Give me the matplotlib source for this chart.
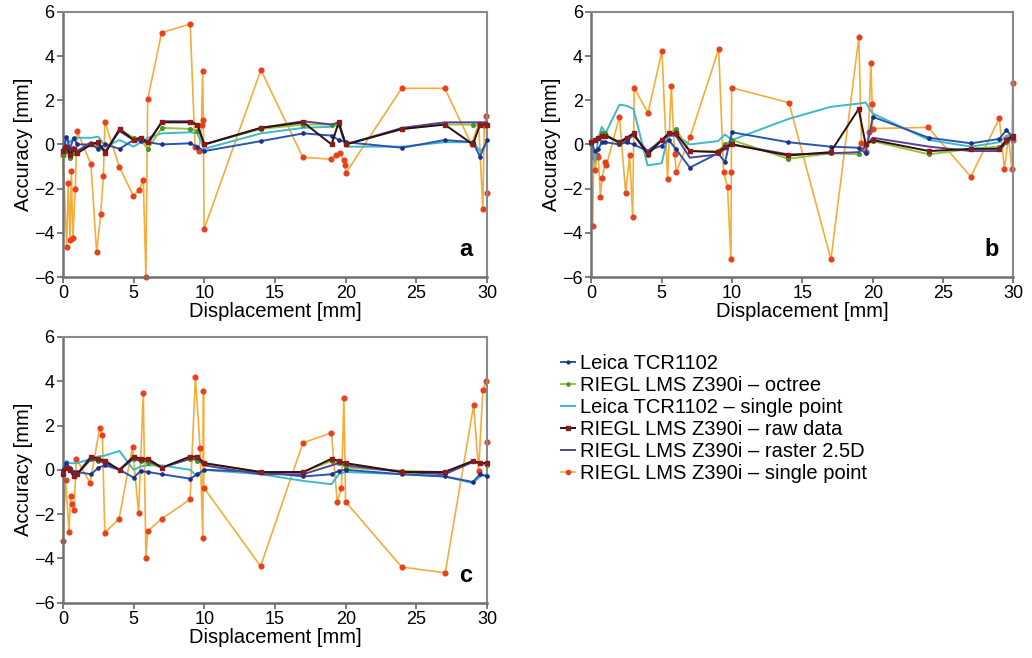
import matplotlib.pyplot as plt

plt.rcParams["font.family"] = ["Liberation Sans", "DejaVu Sans"]

# common displacement steps used by the five "near zero" series
X_STEPS = [0, 0.25, 0.5, 0.75, 1, 2, 2.5, 3, 4, 5, 5.5, 6, 7, 9, 9.5, 10,
           14, 17, 19, 19.5, 20, 24, 27, 29, 29.5, 30]

SERIES_NAMES = [
    "Leica TCR1102",
    "RIEGL LMS Z390i \u2013 octree",
    "Leica TCR1102 \u2013 single point",
    "RIEGL LMS Z390i \u2013 raw data",
    "RIEGL LMS Z390i \u2013 raster 2.5D",
    "RIEGL LMS Z390i \u2013 single point",
]

# panel a
A_LEICA = [-0.3, 0.35, -0.2, 0.3, 0.0, 0.0, -0.2, 0.0, -0.2, 0.2, 0.15, 0.1, 0.0,
           0.05, -0.1, -0.3, 0.15, 0.5, 0.4, 0.2, 0.1, -0.15, 0.2, 0.1, -0.55, 0.2]
A_OCTREE = [-0.5, -0.3, -0.6, -0.4, -0.4, 0.0, -0.1, -0.3, 0.7, 0.3, 0.2, -0.2, 0.75,
            0.7, 0.6, 0.0, 0.7, 0.9, 0.9, 0.9, 0.0, 0.7, 0.9, 0.9, 0.9, 0.9]
A_LEICA_SP = [-0.2, 0.3, 0.1, 0.3, 0.3, 0.3, 0.35, -0.1, 0.2, -0.1, 0.1, 0.3, 0.5,
              0.55, 0.5, -0.2, 0.5, 0.75, 0.8, 0.9, -0.1, -0.1, 0.1, 0.1, -0.3, 0.0]
A_RAW = [-0.3, -0.1, -0.5, -0.2, -0.4, 0.0, 0.1, -0.4, 0.7, 0.2, 0.3, 0.1, 1.0,
         1.0, 0.9, 0.0, 0.75, 1.0, 0.0, 1.0, 0.0, 0.7, 0.9, 0.0, 0.9, 0.9]
A_RASTER = [-0.2, 0.0, -0.4, -0.1, -0.3, 0.1, 0.0, -0.3, 0.6, 0.2, 0.3, 0.0, 1.05,
            1.05, 0.9, 0.0, 0.75, 1.05, 0.9, 1.0, 0.0, 0.75, 1.0, 1.0, 1.0, 1.0]
A_SP_X = [0, 0.26, 0.38, 0.5, 0.6, 0.7, 0.87, 1.0, 1.98, 2.38, 2.67, 2.86, 2.97,
          3.98, 4.98, 5.4, 5.68, 5.87, 5.99, 6.98, 9.0, 9.34, 9.6, 9.8, 9.88, 9.93,
          9.98, 14.0, 16.96, 18.94, 19.3, 19.6, 19.85, 19.97, 20.0, 23.96, 27.0,
          28.9, 29.4, 29.7, 29.8, 29.95, 30.0]
A_SP_Y = [-0.5, -4.62, -1.73, -4.32, -1.2, -4.25, -2.0, 0.61, -0.9, -4.88, -3.16,
          -1.45, 1.02, -1.0, -2.33, -2.06, -1.6, -5.98, 2.04, 5.06, 5.45, -0.1, -0.3,
          0.9, 3.33, 1.1, -3.84, 3.37, -0.58, -0.67, -0.5, -0.4, -0.7, -0.95, -1.3,
          2.54, 2.54, 0.0, 0.93, -2.93, 0.9, 1.3, -2.2]

# panel b
B_LEICA = [0.1, -0.3, -0.2, 0.1, 0.1, 0.0, 0.1, 0.0, -0.3, -0.05, 0.2, -0.2, -1.05,
           -0.4, -0.8, 0.55, 0.1, -0.1, -0.15, -0.4, 1.25, 0.3, 0.05, 0.25, 0.65, 0.3]
B_OCTREE = [0.0, 0.2, 0.3, 0.5, 0.5, 0.0, 0.2, 0.5, -0.5, 0.2, 0.5, 0.7, -0.3,
            -0.3, 0.0, 0.2, -0.65, -0.4, -0.45, 0.0, 0.15, -0.45, -0.2, -0.1, 0.1, 0.3]
B_LEICA_SP = [0.0, -0.8, 0.3, 0.8, 0.5, 1.8, 1.75, 1.6, -0.95, -0.85, 0.5, 0.45, 0.0,
              0.15, 0.45, 0.2, 1.15, 1.7, 1.85, 1.9, 1.4, 0.2, -0.1, 0.1, 0.4, 0.3]
B_RAW = [0.1, 0.2, 0.3, 0.4, 0.4, 0.1, 0.3, 0.5, -0.45, 0.2, 0.5, 0.5, -0.3,
         -0.35, -0.1, 0.0, -0.5, -0.35, 1.6, 0.0, 0.2, -0.3, -0.2, -0.2, 0.2, 0.4]
B_RASTER = [0.1, 0.1, 0.2, 0.3, 0.4, 0.1, 0.2, 0.4, -0.3, 0.2, 0.4, 0.4, -0.6,
            -0.45, -0.2, 0.0, -0.45, -0.4, -0.35, -0.1, 0.3, -0.1, -0.3, -0.3, 0.1, 0.3]
B_SP_X = [0.1, 0.17, 0.28, 0.4, 0.5, 0.64, 0.76, 1.0, 1.07, 2.0, 2.44, 2.72, 2.94,
          3.05, 4.03, 5.02, 5.42, 5.68, 5.92, 6.04, 7.03, 9.05, 9.4, 9.68, 9.92, 9.95,
          9.97, 14.04, 17.03, 19.01, 19.2, 19.5, 19.7, 19.87, 19.96, 20.0, 23.94,
          26.97, 29.0, 29.36, 29.65, 29.88, 29.95, 30.0]
B_SP_Y = [-3.7, -0.56, -1.16, -0.5, -0.56, -2.37, -1.54, -0.8, -0.94, 1.25, -2.2,
          -0.5, -3.28, 2.54, 1.43, 4.23, -1.58, 2.66, -0.44, -1.24, 0.35, 4.32, -1.27,
          -1.92, -5.2, -1.27, 2.57, 1.89, -5.2, 4.85, 0.05, -0.33, 0.57, 3.7, 1.81,
          0.72, 0.77, -1.46, 1.18, -1.13, 0.35, -1.09, 2.76, 0.2]

# panel c
C_LEICA = [0.0, 0.3, 0.1, -0.1, -0.1, -0.2, 0.1, 0.2, 0.0, -0.35, -0.05, -0.1, -0.2,
           -0.4, -0.2, 0.0, -0.1, -0.3, -0.2, -0.05, 0.0, -0.2, -0.3, -0.55, -0.2, -0.3]
C_OCTREE = [-0.1, 0.1, 0.0, -0.3, -0.2, 0.5, 0.4, 0.3, 0.0, 0.5, 0.4, 0.3, 0.1,
            0.5, 0.4, 0.3, -0.1, -0.1, 0.4, 0.3, 0.1, -0.05, -0.1, 0.4, 0.3, 0.2]
C_LEICA_SP = [0.0, 0.4, 0.3, 0.3, 0.3, 0.5, 0.6, 0.65, 0.85, 0.0, 0.15, 0.2, 0.2,
              0.0, -0.3, 0.0, -0.2, -0.5, -0.65, -0.2, -0.1, -0.2, -0.3, -0.6, -0.3, -0.2]
C_RAW = [-0.2, 0.1, 0.0, -0.3, -0.2, 0.6, 0.5, 0.4, 0.0, 0.6, 0.5, 0.5, 0.1,
         0.6, 0.6, 0.3, -0.1, -0.1, 0.5, 0.4, 0.3, -0.1, -0.1, 0.4, 0.3, 0.3]
C_RASTER = [-0.1, 0.0, 0.1, -0.2, -0.2, 0.5, 0.4, 0.3, 0.0, 0.5, 0.4, 0.4, 0.1,
            0.5, 0.5, 0.2, -0.2, -0.2, 0.2, 0.3, 0.2, -0.1, -0.2, 0.35, 0.3, 0.3]
C_SP_X = [0, 0.19, 0.43, 0.54, 0.66, 0.78, 0.95, 1.92, 2.6, 2.79, 2.96, 3.97, 4.92,
          5.35, 5.68, 5.87, 5.99, 6.98, 8.99, 9.37, 9.7, 9.89, 9.94, 9.96, 13.98,
          16.98, 18.99, 19.4, 19.7, 19.87, 19.99, 23.96, 27.04, 29.05, 29.4, 29.7,
          29.95, 30.0]
C_SP_Y = [-3.2, -0.44, -2.8, -1.19, -1.56, -1.83, 0.5, -0.59, 1.9, 1.56, -2.84,
          -2.21, 1.04, -1.94, 3.47, -3.97, -2.77, -2.21, -1.34, 4.18, 0.99, -3.07,
          3.58, -0.8, -4.35, 1.22, 1.67, -1.46, -0.8, 3.25, -1.44, -4.39, -4.65, 2.93,
          -0.06, 3.62, 4.03, 1.25]

PANELS = [
    ("a", [A_LEICA, A_OCTREE, A_LEICA_SP, A_RAW, A_RASTER], A_SP_X, A_SP_Y),
    ("b", [B_LEICA, B_OCTREE, B_LEICA_SP, B_RAW, B_RASTER], B_SP_X, B_SP_Y),
    ("c", [C_LEICA, C_OCTREE, C_LEICA_SP, C_RAW, C_RASTER], C_SP_X, C_SP_Y),
]

# line colour, marker, marker colour, marker size, zorder
STYLES = [
    ("#2a55b0", "o", "#1a2f8a", 2.3, 4),
    ("#9cc23a", "o", "#3e9a2a", 2.6, 3),
    ("#3fb8cc", "", None, 0, 2),
    ("#2e1010", "s", "#8b1a1a", 2.8, 6),
    ("#5b3f95", "", None, 0, 5),
    ("#f4ad3a", "o", "#e8401a", 3.4, 1),
]

AX_RECTS = {
    "a": [0.061, 0.579, 0.411, 0.403],
    "b": [0.573, 0.579, 0.409, 0.403],
    "c": [0.061, 0.084, 0.411, 0.404],
}


def style_axes(ax, letter):
    ax.set_xlim(0, 30)
    ax.set_ylim(-6, 6)
    ax.set_xticks([0, 5, 10, 15, 20, 25, 30])
    ax.set_yticks([-6, -4, -2, 0, 2, 4, 6])
    ax.set_yticklabels(["\u22126", "\u22124", "\u22122", "0", "2", "4", "6"])
    ax.tick_params(labelsize=13, length=4, width=1.2, color="#666666", pad=2)
    for side in ["left", "bottom"]:
        ax.spines[side].set_color("#707070")
        ax.spines[side].set_linewidth(1.8)
    for side in ["top", "right"]:
        ax.spines[side].set_color("#8a8a8a")
        ax.spines[side].set_linewidth(1.5)
    ax.set_xlabel("Displacement [mm]", fontsize=14.5, labelpad=0)
    ax.set_ylabel("Accuracy [mm]", fontsize=14.5, labelpad=1)
    ax.text(0.965, 0.06, letter, transform=ax.transAxes, ha="right", va="bottom",
            fontsize=17, fontweight="bold")


fig = plt.figure(figsize=(10.32, 6.58), dpi=100)

handles = []
for letter, series, sp_x, sp_y in PANELS:
    ax = fig.add_axes(AX_RECTS[letter])
    handles = []
    for values, (lc, mk, mc, ms, z) in zip(series, STYLES[:5]):
        (h,) = ax.plot(X_STEPS, values, color=lc, lw=1.4, marker=mk or None,
                       markersize=ms, markerfacecolor=mc, markeredgecolor=mc,
                       zorder=z, clip_on=False)
        handles.append(h)
    lc, mk, mc, ms, z = STYLES[5]
    (h,) = ax.plot(sp_x, sp_y, color=lc, lw=1.2, marker=mk, markersize=ms,
                   markerfacecolor=mc, markeredgecolor=mc, zorder=z, clip_on=False)
    handles.append(h)
    style_axes(ax, letter)

fig.legend(handles, SERIES_NAMES, loc="upper left", bbox_to_anchor=(0.534, 0.477),
           frameon=False, fontsize=14.5, handlelength=0.7, handletextpad=0.25,
           labelspacing=0.15, borderpad=0, markerscale=0.9)

fig.savefig("out.png", dpi=100)
